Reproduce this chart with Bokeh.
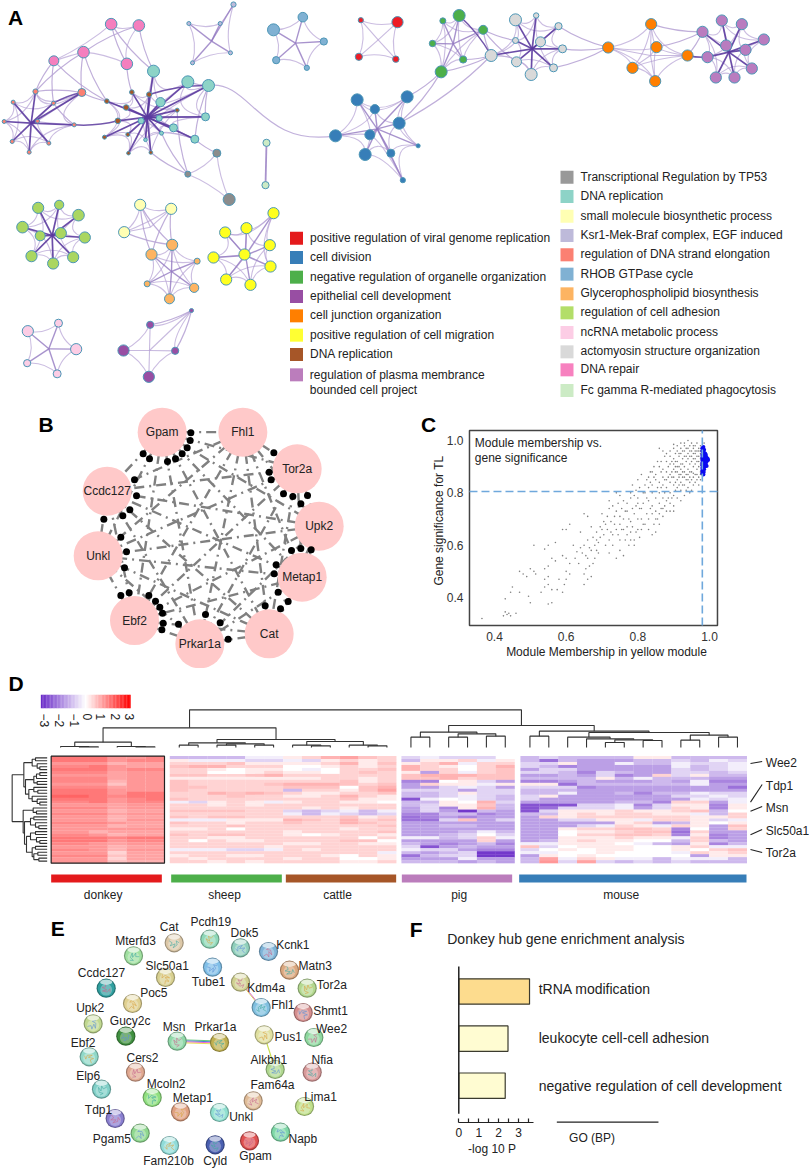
from itertools import combinations
import math
from bokeh.plotting import figure
from bokeh.layouts import column, row
from bokeh.models import Range1d, FixedTicker, LinearColorMapper, NumeralTickFormatter
from bokeh.core.properties import value
from bokeh.embed import file_html
from bokeh.resources import INLINE

FONT = "Liberation Sans"
INK = "#222222"

# ---------- A: enrichment network (name, fill, zoom origin, nodes (x,y,r), hub, spoke style)
PINK = [(332,71,5.8),(415,75,5.8),(249,155,5.8),(160,181,5),(379,190,5.8)]
SALMON = [(244,276,4),(105,273,2.6),(38,305,2),(159,308,2),(11,363,2),(111,362,2),(221,373,2),(35,423,2),(145,428,2),(86,455,2)]
BROWN = [(394,275,2.3),(446,282,2.6),(319,302,2.3),(377,321,2.8),(530,329,2),(352,361,2.8),(382,402,2),(312,410,2),(384,458,1.8),(451,456,1.8)]
TEAL = [(459,212,6),(562,244,6),(624,255,6),(480,305,4.6),(615,349,4),(476,353,3),(422,361,3),(519,382,4),(583,416,4),(483,398,2),(435,418,1.8)]
GRAY = [(649,458,4),(562,521,3),(686,597,6)]
FCG = [(798,427,3.6),(795,554,3.6)]
KSR = [(699,12,2.6),(565,69,2),(659,69,2),(690,157,2),(576,187,2)]
RHOB = [(907,50,4.8),(819,88,6),(970,123,3.6),(827,179,3.6),(919,202,2.6)]
RED = [(1081,59,2.6),(1191,65,5.6),(1075,169,3.6),(1186,176,3.2)]
BLUE = [(1070,298,6),(1220,289,6),(1123,326,4.6),(1196,368,6),(1108,403,5),(1005,406,6),(1094,462,6),(1171,458,4),(1253,436,2),(1207,539,2.6)]
GREEN = [(176,45,6),(127,61,3),(248,88,4.5),(96,129,3.2),(188,177,3.6),(122,214,6)]
LGREY = [(345,58,6),(407,45,2.7),(474,77,3.6),(345,120,3),(420,124,5),(486,145,4),(272,165,6),(348,184,5),(459,202,4),(392,222,6)]
ORANGE = [(752,71,5.6),(623,141,5.6),(768,140,5.6),(861,165,5.6),(696,202,5.6),(764,242,5.6)]
PLUM = [(964,60,5.6),(1024,71,5.6),(906,94,5.6),(1090,117,5.6),(977,135,5.6),(1035,148,5.6),(921,170,5.6),(1054,204,5.6),(946,231,5.6),(1002,231,5.6)]
YGREEN = [(113,142,5.6),(176,133,4.6),(234,164,5.8),(66,200,5.8),(119,226,5),(181,218,5.6),(253,231,5.6),(93,287,5.6),(218,290,5.6),(158,309,5.6)]
PALE = [(419,133,5.6),(512,145,5.6),(371,215,5.6)]
LORANGE = [(515,253,5.6),(453,282,5.6),(590,302,3),(440,370,3),(581,382,4.6),(507,415,5)]
YELLOW = [(819,158,5.6),(738,203,5.6),(674,216,5.6),(808,254,5.6),(732,282,5.6),(639,291,5.6),(810,318,5.6),(677,357,5.6),(750,373,5.6)]
NCRNA = [(174,488,4),(82,512,5.6),(227,566,5.6),(80,608,3.6),(170,640,4)]
PURPLE = [(449,493,3.6),(573,450,2),(369,570,5.6),(524,571,3.6),(445,649,5.6)]

DARK = ("#5b3a9e", 1.7, 0.9)
MED = ("#9278c0", 1.4, 0.8)
LITE = ("#b09cd2", 1.1, 0.7)
CLUSTERS = [
    ("pink", "#F47FBE", "a", PINK, None, None),
    ("salmon", "#FB8072", "a", SALMON, (92,368), DARK),
    ("brown", "#A65628", "a", BROWN, (440,350), DARK),
    ("teal", "#8DD3C7", "a", TEAL, (440,350), DARK),
    ("gray", "#8C8C8C", "a", GRAY, None, None),
    ("fcg", "#CCEBC5", "a", FCG, None, None),
    ("ksr", "#BEBADA", "a", KSR, (633,122), MED),
    ("rhob", "#80B1D3", "a", RHOB, (885,128), MED),
    ("red", "#EE1C25", "a", RED, (1133,118), LITE),
    ("blue", "#377EB8", "a", BLUE, (1130,385), MED),
    ("green", "#4DAF4A", "b", GREEN, (158,130), MED),
    ("lgrey", "#D9D9D9", "b", LGREY, (395,145), DARK),
    ("orange", "#FF7F00", "b", ORANGE, (750,165), LITE),
    ("plum", "#B97CBF", "b", PLUM, (985,155), DARK),
    ("ygreen", "#AAD661", "c", YGREEN, (155,225), DARK),
    ("pale", "#FFFFB3", "c", PALE, (450,200), LITE),
    ("lorange", "#FDB462", "c", LORANGE, (513,333), MED),
    ("yellow", "#FFFF1F", "c", YELLOW, (735,285), MED),
    ("ncrna", "#FCCDE5", "c", NCRNA, (145,565), MED),
    ("purple", "#984EA3", "c", PURPLE, (447,570), LITE),
]
CROSS = [("pink",3,"salmon",1),("pink",2,"salmon",1),("pink",3,"salmon",3),("pink",3,"brown",2),("pink",4,"brown",0),
         ("pink",0,"teal",0),("pink",1,"teal",0),("pink",2,"salmon",0),("pink",0,"pink",4),("pink",1,"pink",2),("pink",2,"brown",2),
         ("salmon",0,"brown",2),("salmon",0,"salmon",1),("salmon",3,"salmon",6),("teal",9,"gray",1),("brown",4,"gray",1),
         ("brown",9,"gray",1),("teal",8,"gray",0),("teal",1,"teal",2),("teal",2,"teal",4),("teal",2,"teal",8),
         ("blue",1,"green",5),("blue",3,"green",5),("blue",3,"lgrey",6),("green",2,"lgrey",6),
         ("green",4,"lgrey",6),("green",5,"lgrey",6),("green",2,"lgrey",3),("green",2,"lgrey",7),("lgrey",5,"orange",1),
         ("lgrey",2,"orange",1),("lgrey",8,"orange",1),("orange",0,"plum",2),("orange",2,"plum",2),("orange",3,"plum",2),
         ("pale",0,"lorange",0),("pale",1,"lorange",0),("pale",2,"lorange",0),("pale",1,"lorange",1),("pale",0,"lorange",1),
         ("purple",0,"purple",1),("purple",3,"purple",1)]
DARK_CROSS = [("salmon",6,"brown",5),("salmon",0,"salmon",3),("teal",2,"brown",1),("lgrey",6,"green",0),("orange",3,"plum",6)]
LONG_EDGE = ("teal",2,"blue",5)

LEGEND_LEFT = ["positive regulation of viral genome replication","cell division","negative regulation of organelle organization",
               "epithelial cell development","cell junction organization","positive regulation of cell migration","DNA replication"]
LEGEND_LEFT_COL = ["#E41A1C","#377EB8","#4DAF4A","#984EA3","#FF7F00","#FFFF33","#A65628","#BB7DBC"]
LEGEND_RIGHT = ["Transcriptional Regulation by TP53","DNA replication","small molecule biosynthetic process","Ksr1-Mek-Braf complex, EGF induced",
                "regulation of DNA strand elongation","RHOB GTPase cycle","Glycerophospholipid biosynthesis","regulation of cell adhesion",
                "ncRNA metabolic process","actomyosin structure organization","DNA repair","Fc gamma R-mediated phagocytosis"]
LEGEND_RIGHT_COL = ["#999999","#8DD3C7","#FFFFB3","#BEBADA","#FB8072","#80B1D3","#FDB462","#B3DE69","#FCCDE5","#D9D9D9","#F781BF","#CCEBC5"]
LEGEND_LEFT_Y = [233,291,350,408,466,524,582,643]
LEGEND_RIGHT_Y = [50,108,167,225,283,341,400,457,516,574,628,690]

# ---------- B: hub gene network
B_GENES = ["Gpam","Fhl1","Tor2a","Upk2","Metap1","Cat","Prkar1a","Ebf2","Unkl","Ccdc127"]
B_X = [485,727,890,956,905,806,598,402,293,320]
B_Y = [110,110,220,392,545,715,745,675,481,287]
B_DOTS = [(571,112),(569,135),(560,157),(545,175),(525,190),(501,198),(447,190),(428,175),(820,172),(806,230),(812,253),
          (849,295),(877,303),(921,300),(901,325),(932,463),(901,459),(873,465),(827,508),(821,535),(833,590),(863,618),
          (840,640),(794,631),(683,731),(615,657),(659,682),(534,686),(361,600),(386,592),(445,600),(465,617),(478,635),
          (486,653),(488,683),(484,703),(310,371),(361,425),(378,469),(372,517),(402,253),(408,301),(388,343),(367,361)]

# ---------- C: module membership vs gene significance
GREY_POINTS = [(.365,.32),(.425,.33),(.435,.335),(.445,.33),(.43,.345),(.44,.34),(.46,.34),(.43,.395),(.445,.42),(.45,.44),(.47,.42),
 (.47,.50),(.48,.49),(.50,.38),(.495,.405),(.50,.51),(.51,.50),(.515,.49),(.49,.48),(.51,.60),(.53,.42),(.54,.44),(.54,.47),(.55,.375),
 (.56,.38),(.55,.45),(.56,.43),(.575,.43),(.59,.42),(.595,.45),(.60,.47),(.61,.49),(.58,.47),(.54,.51),(.55,.52),(.56,.55),(.55,.60),
 (.54,.585),(.57,.54),(.59,.56),(.60,.55),(.61,.53),(.57,.61),(.62,.60),(.59,.66),(.60,.66),(.61,.68),(.60,.50),(.55,.48),(.63,.575),
 (.64,.59),(.65,.60),(.64,.65),(.65,.72),(.66,.71),(.65,.49),(.655,.51),(.65,.45),(.66,.47),(.67,.48),(.675,.53),(.68,.55),(.66,.55),
 (.67,.58),(.68,.60),(.69,.61),(.685,.65),(.67,.67),(.66,.62),(.70,.66),(.71,.68),(.70,.72),(.72,.74),(.73,.75),(.69,.57),(.71,.60),
 (.72,.62),(.73,.64),(.72,.57),(.74,.55),(.75,.58),(.76,.56),(.73,.60),(.75,.62),(.74,.66),(.75,.68),(.76,.70),(.74,.73),(.75,.71),
 (.76,.77),(.78,.78),(.74,.80),(.75,.79),(.72,.77),(.77,.64),(.78,.65),(.79,.62),(.77,.67),(.78,.69),(.79,.72),(.80,.70),(.77,.73),
 (.76,.66),(.80,.76),(.81,.74),(.79,.79),(.80,.78),(.78,.80),(.77,.76),(.82,.80),(.83,.77),(.81,.70),(.82,.68),(.83,.66),(.84,.64),
 (.85,.65),(.81,.66),(.80,.66),(.79,.60),(.78,.62),(.83,.70),(.84,.72),(.85,.70),(.86,.68),(.84,.75),(.85,.73),(.86,.72),(.87,.71),
 (.86,.76),(.87,.74),(.88,.73),(.89,.73),(.90,.73),(.85,.78),(.86,.80),(.87,.78),(.88,.77),(.89,.76),(.90,.75),(.84,.80),(.83,.82),
 (.82,.83),(.80,.85),(.81,.87),(.84,.83),(.85,.85),(.86,.84),(.87,.83),(.88,.82),(.89,.80),(.90,.79),(.91,.78),(.92,.77),(.93,.79),
 (.83,.86),(.84,.88),(.85,.87),(.86,.90),(.87,.89),(.88,.88),(.89,.87),(.90,.86),(.91,.85),(.92,.84),(.93,.83),(.94,.82),(.95,.81),
 (.87,.86),(.88,.85),(.89,.84),(.90,.83),(.91,.82),(.92,.81),(.94,.85),(.93,.86),(.92,.87),(.91,.88),(.90,.89),(.89,.91),(.88,.92),
 (.86,.97),(.87,.96),(.88,.95),(.89,.94),(.90,.93),(.91,.92),(.92,.91),(.93,.90),(.94,.89),(.95,.88),(.96,.87),(.97,.86),(.96,.84),
 (.97,.83),(.95,.85),(.94,.87),(.93,.88),(.92,.89),(.91,.90),(.90,.91),(.89,.96),(.90,.97),(.91,.96),(.92,.95),(.93,.94),(.94,.93),
 (.95,.92),(.96,.91),(.97,.90),(.975,.88),(.97,.92),(.96,.93),(.95,.94),(.94,.95),(.93,.96),(.92,.97),(.91,.98),(.90,.985),(.93,.99),
 (.94,1.0),(.92,.99),(.95,.99),(.96,.98),(.97,.97),(.975,.95),(.97,.94),(.96,.95),(.95,.96),(.94,.97),(.93,.98),(.96,.96),(.97,.96),
 (.955,.90),(.945,.91),(.935,.92),(.925,.93),(.915,.94),(.965,.89),(.955,.875),(.945,.86),(.935,.85),(.925,.86),(.915,.87),(.905,.88),
 (.975,.87),(.965,.85),(.955,.83),(.945,.84),(.965,.94),(.975,.93),(.955,.95),(.945,.98),(.955,.97),(.965,.99),(.975,.98),(.985,.99),
 (.625,.55),(.635,.53),(.645,.57),(.665,.52),(.685,.58),(.695,.63),(.705,.64),(.715,.66),(.725,.69),(.735,.71),(.745,.64),(.755,.66),
 (.765,.62),(.775,.60),(.785,.67),(.795,.65),(.805,.63),(.815,.68),(.825,.72),(.835,.74),(.845,.68),(.855,.70),(.865,.74),(.875,.75),
 (.885,.78),(.895,.78),(.905,.81),(.915,.83),(.925,.83),(.935,.81),(.945,.80),(.875,.80),(.865,.82),(.855,.82),(.845,.86),(.835,.84),
 (.825,.78),(.815,.76),(.805,.74),(.795,.75),(.785,.74),(.775,.70),(.765,.73),(.755,.74),(.745,.76),(.735,.68),(.725,.65),(.715,.71),
 (.705,.69),(.695,.67),(.685,.62),(.675,.63),(.665,.59),(.655,.56),(.785,.83),(.795,.81),(.805,.82),(.815,.80),(.825,.85),(.835,.88),
 (.845,.90),(.855,.92),(.865,.92),(.875,.94),(.885,.90),(.895,.88),(.905,.84),(.885,.86),(.875,.85),(.865,.88),(.895,.86),(.905,.90),
 (.915,.90),(.925,.91),(.935,.94),(.945,.94),(.955,.93),(.965,.92),(.975,.91),(.965,.87),(.975,.85),(.955,.86),(.945,.88),(.935,.87),
 (.925,.88),(.915,.86),(.905,.92),(.915,.95),(.925,.96),(.935,.97),(.945,.96),(.955,.98),(.965,.96),(.975,.96),(.905,.95),(.895,.92)]
BLUE_POINTS = [(.98,.97),(.983,.975),(.985,.965),(.98,.96),(.984,.955),(.988,.95),(.98,.945),(.985,.94),(.99,.945),(.992,.935),
 (.98,.935),(.985,.93),(.99,.928),(.995,.93),(.98,.925),(.986,.92),(.992,.92),(.996,.925),(.98,.915),(.985,.91),(.99,.91),(.98,.905),
 (.986,.90),(.992,.903),(.98,.895),(.985,.89),(.98,.885),(.984,.88),(.98,.875),(.983,.87)]

# ---------- D: heat map (one letter per cell, see HEAT_LEVELS)
HEAT_LEVELS = dict(zip("abcdefghijklmnopqr", [-2.8,-2.4,-2.0,-1.7,-1.35,-1,-.6,-.25,0,.25,.5,.7,.9,1.05,1.2,1.4,1.6,1.8]))
DONKEY = ["qqqoop","qqqopp","ooomnn","ppqonn","qqqopp","pppnoo","ooonoo","pppnoo","pppmoo","oooloo","pppnoo","qqqooo","qqqoqq","rrqpqq","qqqopq","ppqopp","ooonoo","pppnoo",
          "ooomnn","pppnoo","ooomnn","ooomoo","ppponn","ooomnn","oooooo","oomnnn","ppomnn","qqqpqq","qqqopp","pponoo","ooomnn","ppomoo","oooknn","ppplnn","oooknn","ooolmm"]
SHEEP = ["ffffhh","jhhhgg","kkkljj","lmmkkk","kkjijj","kkiijk","llkklm","jjjjjj","lkkkkk","lkkkkl","llkkkk","lkkkkk","kkmlml","kkklkk","lkkkkk","hgjkjh","kkjkjk","kkkkkk",
         "llllkk","kkkkkk","lkllkk","hhhjjj","lkkjkk","kkklkk","jjkikk","kkkkkk","lkllkk","kkjjkk","kikjjk","kkkkkk","kkkkkj","hhhggh","kkkkkk","jkkjjk","kjkkkk","kkjkjk"]
CATTLE = ["jkmnlk","hgjkjk","jjkmjl","iijkjk","ihikkl","jjiklk","kkkkkk","jjkkjk","kkkljk","mmmlkl","lllilm","fkkjln","kjjkkl","jjkmkj","kkkljj","jkkjji","kkkkkk","kjkjkk",
          "gfghfh","hfhgfg","kkkljk","mlkmkl","lkkmlk","kkkkkl","kkkjkk","jkkkkl","jijkkj","kkkkik","kkklli","jjkkjj","kkkkkk","kjkkkk","kkkkkh","kkjikj","jkkiij","kkkjjk"]
PIG = ["ghgggi","fjjkhj","jkmhkk","mkjikm","mkkikl","jekhkl","lmmmll","llmkll","ddijge","ekjjhj","eeghge","gggegg","ffgjgg","ffghgf","bhihgf","ffjimg","fgjjlf","egdjmf",
       "egeafe","ddffde","cdedee","ccgleg","eeeeee","eeffee","eeeeee","eeefhf","eefgig","hhfgkh","eeeeke","fedefd","gbefee","hggedd","fefgaa","cfggaa","eeehee","fffefe"]
MOUSE = ["fgffffjjffff","fcfeeeffgfhg","ggjeehffhggh","gfdeeeeehfgh","eggeeeeegfgh","ggfdgfeeggfg","eefegdekgjff","ffffjfhfffee","ddefeeefehdd","jjcffffffhee","gggdeeeeeeec","fffeeeeeeeee",
         "ffheefdffhgg","gjeeeeeegghg","geeeeeeeehgh","eeeeeffdkkeh","bbbgghdgjjdj","bcggghegkjdj","bgjjjkjjklfi","ffjkjkkjjhfk","ekjkkkkkkjjk","eeggjjhkkjgh","eeeeejkefjij","eeeghkjhkjel",
         "eejkkllkdiek","eeijjkllckee","eeikkllkdjde","eejjjkjjhkde","efjkjjiifkfe","hhjjjihfejdf","lgijjjiijkhh","gijijjiijikl","hhiijiiihkjk","ejijiiiiiejj","fnhkjhhfhhhf","fogngfgfgfff"]
GROUPS = ["donkey","sheep","cattle","pig","mouse"]
GROUP_COLORS = ["#E41A1C","#4DAF4A","#A65628","#BB7DBC","#377EB8"]
GROUP_ROWS = [DONKEY, SHEEP, CATTLE, PIG, MOUSE]
HEAT_LEFT = [152,508,848,1203,1560]
BAR_SPANS = [(152,484),(512,844),(856,1187),(1204,1535),(1556,2238)]
LABEL_X = [308,672,1011,1376,1862]
HUB_LABELS = ["Wee2","Tdp1","Msn","Slc50a1","Tor2a"]
HUB_LABEL_Y = [277,345,412,480,548]
HUB_TICKS = [(279,273),(395,342),(422,408),(493,477),(537,546)]
COLORBAR_TICKS = [-3,-2,-1,0,1,2,3]
COLORBAR_POS = [133,177,221,260,301,345,388]
donkey_tree = (215,(228,0,(229,1,2)),(228,3,(229,4,5)))
sheep_tree = (217,(224,6,7),(220,(224,8,9),(224,10,11)))
cattle_tree = (213,(224,12,(226,13,14)),(224,15,(226,16,17)))
pig_tree = (185,(200,18,19),(190,(200,20,21),(197,22,23)))
mouse_left = (200,26,(205,27,(208,(216,28,29),(210,30,31))))
mouse_right = (194,(209,32,33),(200,34,35))
mouse_tree = (182,(197,24,25),(186,mouse_left,mouse_right))
TOP_TREE = (118,(172,donkey_tree,(207,sheep_tree,cattle_tree)),(165,pig_tree,mouse_tree))
LEFT_UP = (70,(95,(105,0,1),(110,2,(118,3,4))),(75,(100,(108,(118,5,6),7),(110,8,9)),(85,(100,10,(112,11,12)),(95,13,(110,14,(118,15,16))))))
LEFT_DOWN = (68,(98,17,(108,18,19)),(72,(90,(100,20,21),(105,22,(115,23,24))),(78,(90,(105,25,26),(108,27,(118,28,29))),(95,(105,30,31),(100,(112,32,33),(115,34,35))))))
LEFT_TREE = (35,LEFT_UP,LEFT_DOWN)

# ---------- E: STRING network
E_GENES = ["Cat","Pcdh19","Dok5","Kcnk1","Matn3","Tor2a","Shmt1","Wee2","Nfia","Lima1","Napb","Gpam","Cyld","Fam210b","Pgam5","Tdp1","Elp6","Ebf2","Upk2","Ccdc127",
           "Mterfd3","Slc50a1","Tube1","Kdm4a","Fhl1","Poc5","Gucy2c","Msn","Prkar1a","Pus1","Alkbh1","Cers2","Mcoln2","Metap1","Unkl","Fam64a"]
E_X = [461,568,660,744,807,860,848,880,875,852,780,687,584,447,359,284,243,206,218,257,339,435,576,660,722,336,316,470,597,731,764,345,395,480,597,698]
E_Y = [97,86,112,123,179,233,306,381,485,588,665,691,703,705,668,624,536,439,340,233,136,201,170,215,291,279,377,392,396,373,477,485,561,604,606,571]
E_COL = ["#DCC8A8","#8FD8B8","#8FCFBC","#7FB4D8","#DBA87F","#B3D88F","#D68F8F","#8FD89F","#D89A9A","#C0E08A","#7FD8A8","#E05050","#4A5FB0","#90DCD8","#8FD88F","#8A7FD0","#80D0C8","#90D8C8",
         "#C0D890","#30A0A0","#A0E0A0","#D8D090","#80BFE8","#D0D090","#80C0E0","#E0D090","#409040","#90D8A8","#C0B050","#E0E0A0","#B0D890","#E0A890","#90E080","#E0A080","#90E0D0","#E0BC98"]
E_LX = [446,571,672,817,884,934,930,933,905,900,847,705,584,444,274,234,203,188,209,243,345,440,564,737,787,400,329,461,585,803,745,366,437,517,662,756]
E_LY = [50,34,67,104,167,223,302,356,449,559,686,736,752,752,686,598,495,398,293,187,90,167,213,231,284,248,330,350,350,378,447,443,519,561,620,524]
SCRIBBLE_DX = [-5,-2,-4,1,-1,3,2,5]
SCRIBBLE_DY = [-3,-1,2,0,4,1,-3,-1]
SCRIBBLE_COL = ["#3FA9A0","#D9A441","#5C8FD6","#C7658C"]

# ---------- F: enrichment bars
F_TERMS = ["tRNA modification","leukocyte cell-cell adhesion","negative regulation of cell development"]
F_VALUES = [3.55,2.47,2.33]
F_COLORS = ["#FDDC8E","#FFFCD2","#FFFCD2"]


def canvas(x0, y0, x1, y1):
    p = figure(width=x1-x0, height=y1-y0, x_range=Range1d(x0, x1), y_range=Range1d(y1, y0),
               x_axis_type=None, y_axis_type=None, output_backend="svg", toolbar_location=None, min_border=0)
    p.grid.visible = False
    p.outline_line_color = None
    return p


def txt(p, xs, ys, texts, size="12px", align="left", style="normal", color=INK, **kw):
    p.text(x=xs, y=ys, text=texts, text_font=value(FONT), text_font_size=size, text_align=align,
           text_baseline="middle", text_font_style=style, text_color=color, **kw)


def letter(p, x, y, s):
    txt(p, [x], [y], [s], size="21px", align="center", style="bold", color="black")


# ================= A =================
pA = canvas(0, 0, 809, 400)
ORIGIN = {"a": (0, 0), "b": (400, 0), "c": (0, 160)}
abs_nodes = {}
for name, col, org, nodes, hub, style in CLUSTERS:
    ox, oy = ORIGIN[org]
    abs_nodes[name] = [(x/3+ox, y/3+oy, r) for x, y, r in nodes]


def bent(a, b, pull=0.08):
    mx, my = (a[0]+b[0])/2, (a[1]+b[1])/2
    return mx-(b[1]-a[1])*pull, my+(b[0]-a[0])*pull


ring = dict(x0=[], y0=[], x1=[], y1=[], cx=[], cy=[])
for name, col, org, nodes, hub, style in CLUSTERS:
    if name == "fcg":
        continue
    pts = abs_nodes[name]
    ox, oy = ORIGIN[org]
    if hub:
        cx, cy = hub[0]/3+ox, hub[1]/3+oy
    else:
        cx, cy = sum(q[0] for q in pts)/len(pts), sum(q[1] for q in pts)/len(pts)
    order = sorted(pts, key=lambda q: math.atan2(q[1]-cy, q[0]-cx))
    n = len(order)
    steps = [1, 2] if n > 5 else [1]
    for st in steps:
        for i in range(n):
            a, b = order[i], order[(i+st) % n]
            mx, my = (a[0]+b[0])/2, (a[1]+b[1])/2
            k = 0.35 if st == 1 else 0.6
            ring["x0"].append(a[0]); ring["y0"].append(a[1]); ring["x1"].append(b[0]); ring["y1"].append(b[1])
            ring["cx"].append(mx+(cx-mx)*k); ring["cy"].append(my+(cy-my)*k)
pA.quadratic(x0="x0", y0="y0", x1="x1", y1="y1", cx="cx", cy="cy", source=ring, line_color="#b5a1d4", line_width=1.1, line_alpha=0.7)

for pair_list, colr, w in ((CROSS, "#b5a1d4", 1.2), (DARK_CROSS, "#5b3a9e", 1.5)):
    xs0, ys0, xs1, ys1, cxs, cys = [], [], [], [], [], []
    for na, i, nb, j in pair_list:
        a, b = abs_nodes[na][i], abs_nodes[nb][j]
        c = bent(a, b)
        xs0.append(a[0]); ys0.append(a[1]); xs1.append(b[0]); ys1.append(b[1]); cxs.append(c[0]); cys.append(c[1])
    pA.quadratic(x0=xs0, y0=ys0, x1=xs1, y1=ys1, cx=cxs, cy=cys, line_color=colr, line_width=w, line_alpha=0.85)

a_ = abs_nodes["fcg"][0]
b_ = abs_nodes["fcg"][1]
pA.segment(x0=[a_[0]], y0=[a_[1]], x1=[b_[0]], y1=[b_[1]], line_color="#a892cc", line_width=1.8)
a_ = abs_nodes[LONG_EDGE[0]][LONG_EDGE[1]]
b_ = abs_nodes[LONG_EDGE[2]][LONG_EDGE[3]]
pA.bezier(x0=[a_[0]], y0=[a_[1]], x1=[b_[0]], y1=[b_[1]], cx0=[a_[0]+42], cy0=[a_[1]-6], cx1=[b_[0]-75], cy1=[b_[1]+12],
          line_color="#c2b2dc", line_width=1.2)

for name, col, org, nodes, hub, style in CLUSTERS:
    if hub:
        ox, oy = ORIGIN[org]
        cx, cy = hub[0]/3+ox, hub[1]/3+oy
        pts = abs_nodes[name]
        pA.segment(x0=[q[0] for q in pts], y0=[q[1] for q in pts], x1=[cx]*len(pts), y1=[cy]*len(pts),
                   line_color=style[0], line_width=style[1], line_alpha=style[2])
for name, col, org, nodes, hub, style in CLUSTERS:
    pts = abs_nodes[name]
    pA.circle(x=[q[0] for q in pts], y=[q[1] for q in pts], radius=[q[2] for q in pts],
              fill_color=col, line_color="#4c96b6", line_width=1)

letter(pA, 15, 17, "A")
for lab_y, colr in zip(LEGEND_LEFT_Y, LEGEND_LEFT_COL):
    yy = lab_y/3+160
    pA.quad(left=[289.5], right=[302.5], top=[yy-6.5], bottom=[yy+6.5], fill_color=colr, line_color=None)
for lab_y, colr in zip(LEGEND_RIGHT_Y, LEGEND_RIGHT_COL):
    yy = lab_y/3+160
    pA.quad(left=[560], right=[573], top=[yy-6.5], bottom=[yy+6.5], fill_color=colr, line_color=None)
txt(pA, [309.5]*len(LEGEND_LEFT), [y/3+159.4 for y in LEGEND_LEFT_Y[:7]], LEGEND_LEFT)
txt(pA, [309.3, 309.3], [374.3, 389], ["regulation of plasma membrance", "bounded cell project"])
txt(pA, [580]*len(LEGEND_RIGHT), [y/3+159.6 for y in LEGEND_RIGHT_Y], LEGEND_RIGHT)

# ================= B =================
pB = canvas(0, 400, 410, 668)
bx = [v/3 for v in B_X]
by = [v/3+395 for v in B_Y]
ex0, ey0, ex1, ey1 = [], [], [], []
for i, j in combinations(range(len(bx)), 2):
    ex0.append(bx[i]); ey0.append(by[i]); ex1.append(bx[j]); ey1.append(by[j])
pB.segment(x0=ex0, y0=ey0, x1=ex1, y1=ey1, line_color="#808080", line_width=2.4, line_dash="10 5 2 5")
pB.circle(x=bx, y=by, radius=24.5, fill_color="#FFC9C9", line_color=None)
pB.circle(x=[d[0]/3 for d in B_DOTS], y=[d[1]/3+395 for d in B_DOTS], radius=3.5, fill_color="black", line_color=None)
txt(pB, bx, by, B_GENES, align="center")
letter(pB, 45.7, 424, "B")

# ================= C =================
# the frame fills the panel; the axes are pinned to the box edges inside it
C_BOX = (.3302, 1.0223, .293, 1.038)
pC = figure(width=399, height=268, x_range=Range1d(.1656, 1.2791), y_range=Range1d(.1288, 1.1528),
            output_backend="svg", toolbar_location=None, min_border=0)
pC.grid.visible = False
pC.outline_line_color = None
pC.xaxis[0].fixed_location = C_BOX[2]
pC.yaxis[0].fixed_location = C_BOX[0]
for ax in (pC.xaxis[0], pC.yaxis[0]):
    ax.ticker = FixedTicker(ticks=[.4, .6, .8, 1.0])
    ax.formatter = NumeralTickFormatter(format="0.0")
    ax.minor_tick_line_color = None
    ax.major_tick_line_color = None
    ax.major_tick_in = 0
    ax.major_tick_out = 0
    ax.minor_tick_in = 0
    ax.minor_tick_out = 0
    ax.axis_line_color = None
    ax.major_label_text_font = FONT
    ax.major_label_text_font_size = "12px"
    ax.major_label_text_color = "#333333"
    ax.major_label_standoff = 6
pC.quad(left=[C_BOX[0]], right=[C_BOX[1]], bottom=[C_BOX[2]], top=[C_BOX[3]], fill_color=None, line_color="#444444", line_width=1.5)
pC.scatter(x=[q[0] for q in GREY_POINTS], y=[q[1] for q in GREY_POINTS], size=1.6, color="#808080", line_color=None)
pC.scatter(x=[q[0] for q in BLUE_POINTS], y=[q[1] for q in BLUE_POINTS], size=4, color="#0A0AF0", line_color=None)
pC.segment(x0=[.98, C_BOX[0]], y0=[C_BOX[2], .805], x1=[.98, C_BOX[1]], y1=[C_BOX[3], .805], line_color="#6FA8DC", line_width=1.6, line_dash="8 4")
txt(pC, [.345, .345], [.99, .934], ["Module membership vs.", "gene significance"])
txt(pC, [.7126], [.19], ["Module Membership in yellow module"], align="center")
txt(pC, [.2465], [.694], ["Gene significance for TL"], align="center", angle=math.pi/2)
txt(pC, [.216], [1.061], ["C"], size="21px", align="center", style="bold", color="black")

# ================= D =================
pD = canvas(0, 668, 809, 908)
letter(pD, 15.7, 682.7, "D")
STOPS = [(-3, (106, 43, 200)), (0, (255, 255, 255)), (3, (255, 0, 0))]


def ramp(t):
    lo, hi = (STOPS[0], STOPS[1]) if t <= 0 else (STOPS[1], STOPS[2])
    f = (t-lo[0])/(hi[0]-lo[0])
    return "#%02x%02x%02x" % tuple(round(lo[1][k]+(hi[1][k]-lo[1][k])*f) for k in range(3))


palette = [ramp(-3+6*i/128) for i in range(129)]
mapper = LinearColorMapper(palette=palette, low=-3, high=3)
cell_w, cell_h = 56.6/3, 8.92/3
hx, hy, hv = [], [], []
for rows_, left in zip(GROUP_ROWS, HEAT_LEFT):
    for ri, r in enumerate(rows_):
        for ci, ch in enumerate(r):
            hx.append(left/3+(ci+.5)*cell_w)
            hy.append(257/3+670+(ri+.5)*cell_h)
            hv.append(HEAT_LEVELS[ch])
pD.rect(x="x", y="y", width=cell_w+.15, height=cell_h+.25, source=dict(x=hx, y=hy, v=hv),
        fill_color={"field": "v", "transform": mapper}, line_color=None)
pD.quad(left=[152/3], right=[492/3], top=[257/3+670], bottom=[578/3+670], fill_color=None, line_color="#222222", line_width=1.2)

# colour bar
cb_vals = [-3+6*i/64 for i in range(65)]
cb_l, cb_r = 121/3, 390/3
cw = (cb_r-cb_l)/65
pD.quad(left=[cb_l+i*cw for i in range(65)], right=[cb_l+(i+1)*cw+.2 for i in range(65)], top=[694.3]*65, bottom=[707.7]*65,
        fill_color=[ramp(v) for v in cb_vals], line_color=None)
txt(pD, [v/3 for v in COLORBAR_POS], [713]*7, [str(t).replace("-", "\u2212") for t in COLORBAR_TICKS], angle=-math.pi/2)


def tree_paths(node, leafpos, leafh, out):
    if isinstance(node, int):
        return leafpos[node], leafh
    h, a, b = node
    pa, ha = tree_paths(a, leafpos, leafh, out)
    pb, hb = tree_paths(b, leafpos, leafh, out)
    out.append(([pa, pa, pb, pb], [ha, h, h, hb]))
    return (pa+pb)/2, h


col_pos = []
for left, rows_ in zip(HEAT_LEFT, GROUP_ROWS):
    col_pos += [left+(i+.5)*56.6 for i in range(len(rows_[0]))]
paths = []
tree_paths(TOP_TREE, col_pos, 231, paths)
pD.multi_line(xs=[[v/3 for v in q[0]] for q in paths], ys=[[v/3+670 for v in q[1]] for q in paths], line_color="#333333", line_width=1.1)
row_pos = [262+8.85*i for i in range(36)]
paths = []
tree_paths(LEFT_TREE, row_pos, 140, paths)
pD.multi_line(xs=[[v/3 for v in q[1]] for q in paths], ys=[[v/3+670 for v in q[0]] for q in paths], line_color="#333333", line_width=1.1)

for (l, r), colr in zip(BAR_SPANS, GROUP_COLORS):
    pD.quad(left=[l/3], right=[r/3], top=[612/3+670], bottom=[636/3+670], fill_color=colr, line_color=None)
txt(pD, [v/3 for v in LABEL_X], [672/3+670]*5, GROUPS, align="center")
txt(pD, [1096/3+400]*5, [v/3+670 for v in HUB_LABEL_Y], HUB_LABELS)
pD.segment(x0=[1050/3+400]*5, y0=[t[0]/3+670 for t in HUB_TICKS], x1=[1085/3+400]*5, y1=[t[1]/3+670 for t in HUB_TICKS],
           line_color="#222222", line_width=1.1)

# ================= E =================
pE = canvas(0, 908, 400, 1169)
ex = [v/3+20 for v in E_X]
ey = [v/3+910 for v in E_Y]
idx = {g: i for i, g in enumerate(E_GENES)}
for o, c_ in zip((-1.5, -.5, .5, 1.5), ("#66C87A", "#4C7FD9", "#EE6AD0", "#E8E05A")):
    i, j = idx["Msn"], idx["Prkar1a"]
    pE.line([ex[i], ex[j]], [ey[i]+o, ey[j]+o], line_color=c_, line_width=1)
i, j = idx["Kdm4a"], idx["Fhl1"]
pE.line([ex[i]-.5, ex[j]-.5], [ey[i], ey[j]], line_color="#D8D85A", line_width=1)
pE.line([ex[i]+.5, ex[j]+.5], [ey[i], ey[j]], line_color="#E070D0", line_width=1)
i, j = idx["Pus1"], idx["Alkbh1"]
pE.line([ex[i], ex[j]], [ey[i], ey[j]], line_color="#C8DC50", line_width=1.2)


def shade(hexc, f):
    v = [int(hexc[k:k+2], 16) for k in (1, 3, 5)]
    if f < 1:
        v = [c*f for c in v]
    else:
        v = [c+(255-c)*(f-1) for c in v]
    return "#%02x%02x%02x" % tuple(round(c) for c in v)


R = 9.6
pE.circle(x=ex, y=ey, radius=R, fill_color=[shade(c, .72) for c in E_COL], line_color=None)
pE.circle(x=ex, y=ey, radius=R*.88, fill_color=E_COL, line_color=None)
pE.circle(x=ex, y=[v+1.5 for v in ey], radius=R*.62, fill_color=[shade(c, 1.3) for c in E_COL], line_color=None)
sx, sy, sc = [], [], []
for k, (cx_, cy_) in enumerate(zip(ex, ey)):
    ang = k*1.7
    ca, sa = math.cos(ang), math.sin(ang)
    sx.append([cx_+dx*ca-dy*sa for dx, dy in zip(SCRIBBLE_DX, SCRIBBLE_DY)])
    sy.append([cy_+1+dx*sa+dy*ca for dx, dy in zip(SCRIBBLE_DX, SCRIBBLE_DY)])
    sc.append(SCRIBBLE_COL[k % 4])
pE.multi_line(xs=sx, ys=sy, line_color=sc, line_width=.8, line_alpha=.7)
pE.ellipse(x=ex, y=[v-6 for v in ey], width=R*1.25, height=R*.55, fill_color="white", fill_alpha=.65, line_color=None)
txt(pE, [v/3+20 for v in E_LX], [v/3+910 for v in E_LY], E_GENES, align="center")
letter(pE, 57.3, 928, "E")

# ================= F =================
pF = figure(width=409, height=261, x_range=Range1d(-2.925, 17.6), y_range=Range1d(4.779, -0.762),
            output_backend="svg", toolbar_location=None, min_border=0, y_axis_type=None)
pF.grid.visible = False
pF.outline_line_color = None
axF = pF.xaxis[0]
axF.fixed_location = 3.775
axF.ticker = FixedTicker(ticks=[0, 1, 2, 3], minor_ticks=[.5, 1.5, 2.5, 3.5])
axF.bounds = (0, 3.75)
axF.major_tick_in, axF.major_tick_out = 4, 0
axF.minor_tick_in, axF.minor_tick_out = 4, 0
axF.axis_line_color = axF.major_tick_line_color = axF.minor_tick_line_color = "#222222"
axF.axis_line_width = axF.major_tick_line_width = axF.minor_tick_line_width = 1.2
axF.major_label_text_font = FONT
axF.major_label_text_font_size = "12px"
axF.major_label_text_color = INK
axF.major_label_standoff = 6
pF.hbar(y=[1, 2, 3], left=0, right=F_VALUES, height=.54, fill_color=F_COLORS, line_color="#3B3A2E", line_width=1.2)
pF.segment(x0=[0], y0=[.47], x1=[0], y1=[3.597], line_color="#222222", line_width=1.5)
pF.segment(x0=[4.92], y0=[3.775], x1=[10.02], y1=[3.775], line_color="#222222", line_width=1.3)
txt(pF, [4.01]*3, [.943, 1.98, 3.01], F_TERMS, size="14px")
txt(pF, [-.58], [-.104], ["Donkey hub gene enrichment analysis"], size="14px")
txt(pF, [-2.14], [-.316], ["F"], size="21px", align="center", style="bold", color="black")
txt(pF, [1.67, 6.69], [4.334, 4.115], ["-log 10 P", "GO (BP)"], align="center")

page = column(pA, row(pB, pC), pD, row(pE, pF))
open("out.html", "w").write(file_html(page, INLINE))
